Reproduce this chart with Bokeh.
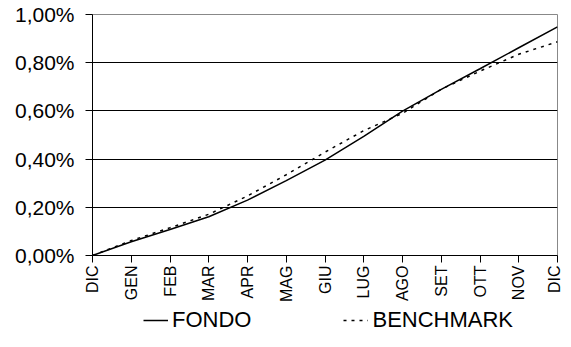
from bokeh.plotting import figure
from bokeh.models import FixedTicker, Legend, LegendItem, Range1d
from bokeh.layouts import column
from bokeh.embed import file_html
from bokeh.resources import INLINE
import math

months = ["DIC", "GEN", "FEB", "MAR", "APR", "MAG", "GIU", "LUG", "AGO", "SET", "OTT", "NOV", "DIC"]
fondo = [0.0, 0.057, 0.108, 0.161, 0.230, 0.311, 0.396, 0.494, 0.599, 0.689, 0.775, 0.862, 0.949]
benchmark = [0.0, 0.062, 0.115, 0.171, 0.247, 0.335, 0.429, 0.518, 0.590, 0.690, 0.765, 0.835, 0.887]
y_ticks = [0.0, 0.2, 0.4, 0.6, 0.8, 1.0]
y_labels = ["0,00%", "0,20%", "0,40%", "0,60%", "0,80%", "1,00%"]
series_names = ["FONDO", "BENCHMARK"]

xs = list(range(len(months)))
FONT = "Liberation Sans"
SOLID = dict(line_color="black", line_width=1.5)
DOTTED = dict(line_color="black", line_width=1.5, line_dash="3 5")

p = figure(frame_width=465, frame_height=241, output_backend="svg", toolbar_location=None,
           x_range=Range1d(0, len(months) - 1), y_range=Range1d(0, 1.0),
           min_border_left=92, min_border_right=5, min_border_top=14, min_border_bottom=0)
p.background_fill_color = "white"
p.border_fill_color = "white"
p.outline_line_color = "#888888"
p.outline_line_width = 1

p.xgrid.grid_line_color = None
p.ygrid.grid_line_color = "black"
p.ygrid.grid_line_width = 1
p.ygrid.ticker = FixedTicker(ticks=y_ticks)

p.yaxis.ticker = FixedTicker(ticks=y_ticks)
p.yaxis.major_label_overrides = {t: l for t, l in zip(y_ticks, y_labels)}
p.yaxis.major_tick_in = 0
p.yaxis.major_tick_out = 7
p.yaxis.minor_tick_line_color = None
p.yaxis.axis_line_color = "black"
p.yaxis.major_tick_line_color = "black"
p.yaxis.major_label_text_font = FONT
p.yaxis.major_label_text_font_size = "21px"
p.yaxis.major_label_text_color = "black"
p.yaxis.major_label_standoff = 11

p.xaxis.ticker = FixedTicker(ticks=xs)
p.xaxis.major_label_overrides = {i: m for i, m in zip(xs, months)}
p.xaxis.major_label_orientation = math.pi / 2
p.xaxis.major_tick_in = 0
p.xaxis.major_tick_out = 7
p.xaxis.minor_tick_line_color = None
p.xaxis.axis_line_color = "black"
p.xaxis.major_tick_line_color = "black"
p.xaxis.major_label_text_font = FONT
p.xaxis.major_label_text_font_size = "16px"
p.xaxis.major_label_text_color = "black"
p.xaxis.major_label_standoff = 3

p.line(xs, fondo, **SOLID)
p.line(xs, benchmark, **DOTTED)

# legend strip below the chart (its lines lie outside its visible range)
lg = figure(width=562, height=30, output_backend="svg", toolbar_location=None,
            x_range=Range1d(0, len(months) - 1), y_range=Range1d(10, 11),
            x_axis_location=None, y_axis_location=None,
            min_border_left=0, min_border_right=0, min_border_top=0, min_border_bottom=0)
lg.outline_line_color = None
lg.grid.grid_line_color = None
lg.background_fill_color = "white"
lg.border_fill_color = "white"
k1 = lg.line(xs, fondo, **SOLID)
k2 = lg.line(xs, benchmark, **DOTTED)
legend = Legend(items=[LegendItem(label=series_names[0], renderers=[k1]),
                       LegendItem(label=series_names[1], renderers=[k2])],
                orientation="horizontal", location=(51, 1),
                glyph_width=25, glyph_height=20, label_standoff=4, spacing=92,
                padding=0, margin=0, border_line_color=None,
                background_fill_alpha=0,
                label_text_font=FONT, label_text_font_size="22px",
                label_text_color="black", label_height=20)
lg.add_layout(legend, "center")

layout = column(p, lg, spacing=0)
open("out.html", "w").write(file_html(layout, INLINE))
